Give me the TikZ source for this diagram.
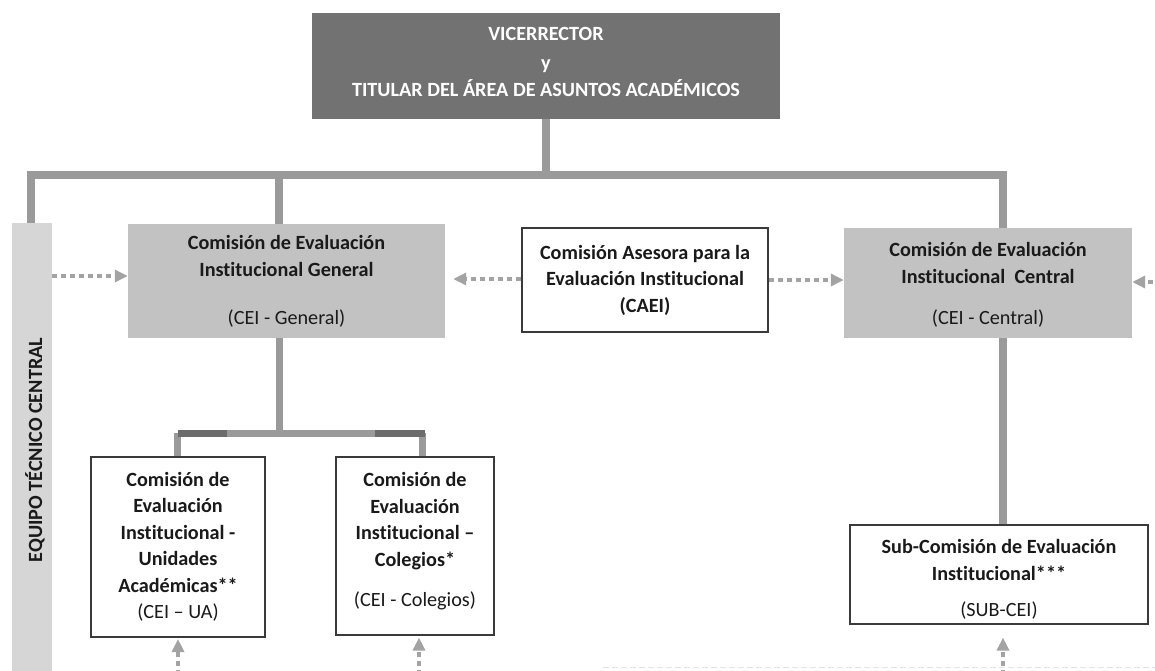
\documentclass[tikz,border=0pt]{standalone}
\usepackage{fontspec}
\setmainfont{Carlito}[Ligatures=NoCommon]
\usetikzlibrary{arrows.meta}
\definecolor{topgray}{HTML}{727272}
\definecolor{ceigray}{HTML}{C2C2C2}
\definecolor{etcgray}{HTML}{D6D6D6}
\definecolor{conngray}{HTML}{9A9A9A}
\definecolor{conndark}{HTML}{6C6C6C}
\definecolor{arrgray}{HTML}{A3A3A3}
\definecolor{txt}{HTML}{1A1A1A}
\definecolor{bord}{HTML}{3A3A3A}
\definecolor{dashgray}{HTML}{E2E2E2}
\begin{document}
\begin{tikzpicture}[x=1pt,y=-1pt,
  base/.style={inner sep=0pt, align=center, text=txt, font=\bfseries\fontsize{20.2}{26.5}\selectfont},
  topbox/.style={base, fill=topgray, text=white},
  greybox/.style={base, fill=ceigray},
  whitebox/.style={base, draw=bord, line width=1.1pt, fill=white},
  etcbox/.style={fill=etcgray, inner sep=0pt},
  conn/.style={draw=conngray, line width=8pt, line join=miter},
  subconn/.style={draw=conngray, line width=7pt},
  darkseg/.style={draw=conndark, line width=7pt},
  arr/.style={draw=arrgray, line width=4pt, dash pattern=on 5pt off 4pt,
    -{Triangle[length=13pt,width=12pt]}},
]
\useasboundingbox (0,0) rectangle (1155,670);

% bottom faint dashed line
\draw[dashgray, line width=1pt, dash pattern=on 6pt off 3pt] (603,667) -- (1160,667);

% boxes
\node[topbox, minimum width=468pt, minimum height=106pt] (top) at (546,66) {};
\node[base, text=white] (toptext) at (546,61.5)
  {VICERRECTOR\\[3pt]y\\TITULAR DEL ÁREA DE ASUNTOS ACADÉMICOS};
\node[etcbox, minimum width=40pt, minimum height=452pt] (etc) at (32,449) {};
\node[base, rotate=90] (etclabel) at (35,450) {EQUIPO TÉCNICO CENTRAL};

\node[greybox, minimum width=317pt, minimum height=114pt] (cg) at (286.5,281)
  {Comisión de Evaluación\\[1pt]Institucional General\\[21pt]\mdseries(CEI - General)};
\node[whitebox, minimum width=246pt, minimum height=104pt] (caei) at (645,280)
  {Comisión Asesora para la\\Evaluación Institucional\\(CAEI)};
\node[greybox, minimum width=288pt, minimum height=110pt] (cc) at (988,283) {};
\node[base] (cctext) at (988,285)
  {Comisión de Evaluación\\Institucional\ \ Central\\[15pt]\mdseries(CEI - Central)};

\node[whitebox, minimum width=174pt, minimum height=180pt] (ua) at (178,547)
  {Comisión de\\Evaluación\\Institucional -\\Unidades\\Académicas**\\\mdseries(CEI – UA)};
\node[whitebox, minimum width=158pt, minimum height=178pt] (col) at (415,546) {};
\node[base] (coltext) at (415,541.5)
  {Comisión de\\Evaluación\\Institucional –\\Colegios*\\[14pt]\mdseries(CEI - Colegios)};
\node[whitebox, minimum width=298pt, minimum height=99pt] (sub) at (999,574.5) {};
\node[base] (subtext) at (999,579.5)
  {Sub-Comisión de Evaluación\\Institucional***\\[10pt]\mdseries(SUB-CEI)};

% coordinates
\coordinate (bar) at (546,175);
\coordinate (bl) at (31,175);
\coordinate (bm) at (279,175);
\coordinate (br) at (1003,175);
\coordinate (cgx) at (279,433);
\coordinate (sbl) at (178,433);
\coordinate (sbr) at (425,433);
\coordinate (uax) at (177,433);
\coordinate (colx) at (422,433);

% main connectors
\draw[conn] (top.south) -- (bar);
\draw[conn] (etc.north -| bl) -- (bl) -- (br) -- (br |- cc.north);
\draw[conn] (bm) -- (bm |- cg.north);
\draw[conn] (br |- cc.south) -- (br |- sub.north);

% sub tree
\draw[subconn] (cgx |- cg.south) -- (cgx);
\draw[subconn] (uax) -- (uax |- ua.north);
\draw[subconn] (colx) -- (colx |- col.north);
\draw[subconn] (sbl) -- (sbr);
\draw[darkseg] (sbl) -- (227,433);
\draw[darkseg] (375,433) -- (sbr);

% dotted arrows
\coordinate (ya) at (0,276);
\draw[arr] (etc.east |- ya) -- (cg.west |- ya);
\coordinate (yb) at (0,279);
\draw[arr, shorten >=8pt] (caei.west |- yb) -- (cg.east |- yb);
\coordinate (yc) at (0,280);
\draw[arr] (caei.east |- yc) -- (cc.west |- yc);
\coordinate (rin) at (1162,282);
\draw[arr] (rin) -- (cc.east |- rin);
\coordinate (uain) at (178,675);
\draw[arr, shorten >=1.5pt] (uain) -- (ua.south);
\coordinate (colin) at (419,675);
\draw[arr, shorten >=2pt] (colin) -- (colin |- col.south);
\coordinate (subin) at (1003,675);
\draw[arr, shorten >=13pt] (subin) -- (subin |- sub.south);
\end{tikzpicture}
\end{document}
